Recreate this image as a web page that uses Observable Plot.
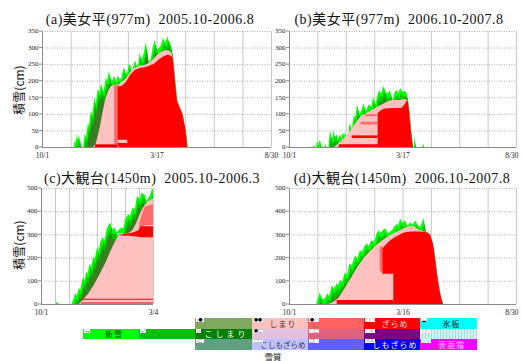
<!DOCTYPE html>
<html><head><meta charset="utf-8">
<script src="https://cdn.jsdelivr.net/npm/d3@7"></script>
<script src="https://cdn.jsdelivr.net/npm/@observablehq/plot@0.6"></script>
<style>
body{margin:0;background:#fff;width:522px;height:361px;overflow:hidden;position:relative;font-family:"Noto Sans CJK JP",sans-serif}
.pl{position:absolute}
.title{position:absolute;font-family:"Liberation Serif","Noto Sans CJK JP",serif;font-size:14px;line-height:14px;letter-spacing:0.5px;white-space:pre;transform:translateX(-50%);color:#111}
.ytitle{position:absolute;font-size:12px;line-height:12px;white-space:nowrap;transform:translate(-50%,-50%) rotate(-90deg);color:#111}
.cell{position:absolute;box-sizing:border-box;font-size:8px;text-align:center;white-space:nowrap;overflow:hidden}
.sym{position:absolute;left:1px;top:0;font-size:4px;line-height:4px;background:#fff;color:#000;padding:0 1px}
#xq{position:absolute;left:273px;top:351.5px;transform:translateX(-50%);font-size:8.5px;line-height:9px;color:#222}
</style></head><body>
<script>
// ---------- data (day index from 10/1, snow depth cm) ----------
const abTicks = [0, 166.5, 333];
const aLabels = ["10/1", "3/17", "8/30"];
const bLabels = ["10/1", "3/17", "8/30"];
const cTicks = [0, 154];
const cLabels = ["10/1", "3/4"];
const dLabels = ["10/1", "3/16", "8/30"];

const titles = ["(a)美女平(977m)  2005.10-2006.8", "(b)美女平(977m)  2006.10-2007.8",
                "(c)大観台(1450m)  2005.10-2006.3", "(d)大観台(1450m)  2006.10-2007.8"];

// (a) 美女平 2005-06
const aDepth = [[46,0],[48,22],[49,12],[51,42],[52,20],[54,35],[56,10],[58,0],[60,0],[62,40],[64,30],[67,75],[68,60],[71,110],[73,95],[76,150],[78,130],[81,175],[83,165],[86,190],[89,165],[91,185],[93,210],[95,200],[97,229],[100,205],[102,200],[105,215],[108,197],[110,215],[113,205],[115,205],[117,225],[119,240],[122,222],[124,225],[126,248],[128,250],[130,232],[132,235],[135,262],[138,245],[140,250],[142,287],[144,265],[146,270],[148,283],[151,317],[154,262],[157,258],[159,275],[161,300],[164,323],[166,305],[167,290],[170,300],[172,302],[174,315],[176,329],[179,315],[181,325],[182,335],[184,320],[186,317],[188,300],[189,290],[190,270],[193,200],[196,142],[200,120],[204,102],[206,80],[208,60],[210,25],[211,0]];
const aPink = [[74,0],[78,10],[80,25],[84,60],[88,105],[92,145],[96,170],[100,183],[106,188],[112,190],[118,200],[124,212],[130,232],[136,240],[142,246],[148,247],[154,252],[160,262],[166,275],[172,285],[178,292],[184,292],[188,285],[190,270],[196,142],[204,102],[208,60],[211,0]];
const aSalmon = [[105,8,184],[111,8,190]];
const aRed = [[110,8,180],[112,0,183],[116,0,185],[122,0,196],[128,0,217],[135,0,232],[142,0,238],[150,0,241],[157,0,246],[164,0,253],[170,0,265],[176,0,272],[182,0,278],[187,0,276],[190,0,270],[196,0,142],[200,0,120],[204,0,102],[206,0,80],[208,0,60],[210,0,25],[211,0,0]];
const aPinkBar = [[110,12,22],[124,12,22]];
const aRedBase = [[77,0,8],[110,0,8]];

// (b) 美女平 2006-07
const bDepth = [[35,0],[37,6],[38,0],[40,0],[41,20],[43,5],[45,22],[47,8],[48,0],[52,0],[53,10],[55,0],[58,0],[60,50],[62,30],[64,25],[65,52],[67,30],[70,38],[72,22],[75,40],[77,25],[79,45],[81,33],[82,44],[85,30],[87,40],[89,72],[91,60],[92,52],[95,95],[97,90],[100,127],[102,110],[104,100],[107,115],[109,132],[111,120],[113,107],[116,125],[119,128],[121,118],[123,151],[125,140],[127,130],[130,160],[133,172],[135,160],[138,184],[140,175],[142,166],[145,160],[148,172],[150,155],[152,141],[155,165],[158,172],[160,160],[163,178],[165,170],[167,166],[170,170],[173,161],[174,142],[176,110],[178,60],[180,25],[182,0],[183,0],[184,35],[185,10],[186,0],[195,0],[197,10],[198,0]];
const bPink = [[66,0],[72,10],[78,22],[84,35],[90,50],[95,65],[100,80],[106,95],[112,100],[118,108],[124,115],[130,122],[136,128],[142,135],[148,140],[155,142],[162,142],[168,145],[174,142],[176,110],[178,60],[180,25],[182,0]];
const bRed = [[130,0,102],[133,0,108],[138,0,115],[145,0,117],[155,0,118],[165,0,118],[170,0,130],[173,0,140],[174,0,142],[176,0,110],[178,0,60],[180,0,25],[182,0,0]];
const bStripe = [[92,27,35],[130,27,35]];
const bRedBase = [[73,0,8],[130,0,8]];
const bSalmon1 = [[105,68,76],[130,68,76]];
const bSalmon2 = [[112,93,99],[130,93,99]];

// (c) 大観台 2005-06
const cDepth = [[20,0],[22,10],[24,0],[42,0],[45,25],[47,47],[49,35],[52,70],[54,60],[56,95],[58,116],[60,100],[62,140],[64,130],[67,175],[69,160],[72,205],[74,195],[77,245],[79,230],[82,270],[85,289],[87,270],[90,320],[93,340],[95,352],[98,320],[101,330],[104,309],[107,320],[111,331],[113,325],[116,365],[120,390],[122,375],[125,410],[127,416],[129,405],[131,450],[133,467],[136,450],[138,480],[140,476],[143,470],[145,440],[147,455],[150,470],[152,490],[154,498]];
const cPink = [[52,0],[58,20],[65,45],[72,80],[80,125],[88,175],[95,225],[101,265],[106,295],[112,300],[120,305],[126,320],[131,350],[136,390],[141,420],[146,440],[150,448],[154,455]];
const cRed = [[109,295,300],[120,294,304],[128,292,310],[134,290,318],[137,288,335],[154,288,335]];
const cSalmon = [[135,320,350],[140,335,400],[143,340,420],[154,340,430]];
const cBlue = [[104,300,306],[113,300,306]];
const cLine1 = [[55,18,23],[154,18,23]];
const cLine2 = [[55,2,6],[154,2,6]];

// (d) 大観台 2006-07
const dDepth = [[40,0],[43,30],[45,51],[48,25],[52,20],[56,45],[59,35],[63,81],[66,65],[70,90],[72,80],[75,103],[78,95],[82,137],[85,125],[89,176],[92,165],[95,195],[97,210],[100,195],[104,232],[107,225],[111,250],[114,262],[117,250],[120,270],[122,275],[125,265],[128,300],[131,318],[134,305],[138,320],[141,326],[145,305],[148,310],[151,318],[154,330],[158,347],[160,335],[163,369],[166,350],[170,360],[174,335],[178,352],[181,340],[185,360],[188,345],[192,330],[195,350],[197,373],[200,320],[202,309],[207,300],[211,262],[214,200],[216,150],[219,90],[222,40],[224,17],[226,0]];
const dPink = [[58,0],[65,10],[72,25],[80,60],[88,100],[92,118],[98,150],[104,175],[110,200],[116,220],[123,240],[130,260],[137,275],[144,290],[150,300],[157,310],[164,320],[170,330],[177,335],[184,335],[190,320],[196,315],[202,309],[207,300],[211,262],[214,200],[216,150],[219,90],[222,40],[224,17],[226,0]];
const dSalmon = [[133,140,245],[137,140,252]];
const dRed = [[137,130,240],[142,130,255],[147,130,270],[153,130,285],[153,0,285],[160,0,295],[166,0,305],[172,0,310],[180,0,312],[190,0,312],[196,0,311],[202,0,309],[207,0,300],[211,0,262],[214,0,200],[216,0,150],[219,0,90],[222,0,40],[224,0,17],[226,0,0]];
const dRedBase = [[70,0,17],[153,0,17]];

// legend (雪質)
const legendX = [83,139,195,252,308,364,420,477];
const legendY = [318,329,339,350];
const legendRow1 = [null,null,"#80a860","#ffc0c0","#ff6060","#ff0000","#00ffff"];
const legendRow2 = ["#00ff00","#00c000","#008000","#e0c0e0","#e06080","#800080","stripe"];
const legendRow3 = [null,null,"#60a080","#c0c0ff","#6060ff","#0000ff","#ff00ff"];
const legendText1 = ["","","","しまり","","ざらめ","氷板"];
const legendText2 = ["新雪","","こしまり","","","",""];
const legendText3 = ["","","","こしもざらめ","","しもざらめ","表面霜"];
const legendInk1 = ["","","","#333","","#ffe0e0","#222"];
const legendInk2 = ["#114411","","#ffffff","","","",""];
const legendInk3 = ["","","","#333","","#ffffff","#ffc0ff"];
const legendSym1 = ["","","/●","●●","●○","○○","▬"];
const legendSym2 = ["++","+/","//","●□","○□","○∧","○○"];
const legendSym3 = ["","","/□","□□","□○","∧∧","∨∨"];

// ---------- drawing ----------
const GREEN = "#00ff00", GREEN2 = "#00c000", OLIVE = "#3a7d22", PINK = "#ffc0c0", RED = "#ff0000", SALMON = "#ff6a6a";

function panel(cfg){
  const {left, top, width, height, ml, mr, mt, mb, xmax, ymax, ystep, xticks, xlabels, lastEnd, depth, pink, bands} = cfg;
  const labelOf = new Map(xticks.map((t,i)=>[t, xlabels[i]]));
  const xy = {x: d=>d[0], y: d=>d[1], curve:"linear", clip:true};
  const band = ([data, fill]) => Plot.areaY(data, {x:d=>d[0], y1:d=>d[1], y2:d=>d[2], fill, curve:"linear", clip:true});
  const xo = {tickFormat: d => labelOf.get(d), tickSize:0, tickPadding:5, fontSize:7.5};
  const xAxes = lastEnd
    ? [Plot.axisX({ticks: xticks.slice(0,-1), ...xo}),
       Plot.axisX({ticks: xticks.slice(-1), ...xo, textAnchor:"end", dx:2})]
    : [Plot.axisX({ticks: xticks, ...xo})];
  const svg = Plot.plot({
    width, height, marginLeft: ml, marginRight: mr, marginTop: mt, marginBottom: mb,
    x: {domain:[0, xmax]},
    y: {domain:[0, ymax]},
    style: {background:"transparent", fontFamily:"Liberation Serif, serif", fontSize:"8px", color:"#222", overflow:"visible"},
    marks: [
      Plot.ruleX(d3.range(1, 9).map(i => i*xmax/8), {stroke:"#c8c8c8", strokeWidth:1}),
      Plot.ruleY(d3.range(ystep, ymax+1, ystep), {stroke:"#9a9a9a", strokeWidth:0.8, strokeDasharray:"1,1.5"}),
      Plot.areaY(depth, {...xy, fill:GREEN}),
      Plot.areaY(depth, {...xy, fill:GREEN2, dx:1, dy:5}),
      Plot.areaY(depth, {...xy, fill:OLIVE, dx:1, dy:11}),
      Plot.areaY(pink, {...xy, fill:PINK}),
      ...bands.map(band),
      Plot.ruleX([0], {stroke:"#8a8a8a"}),
      Plot.ruleY([0], {stroke:"#8a8a8a"}),
      Plot.axisY({ticks: d3.range(0, ymax+1, ystep), tickSize:3, tickPadding:1, stroke:"#8a8a8a", fontSize:7, dy:-0.5}),
      ...xAxes
    ]
  });
  svg.classList.add("pl");
  svg.style.left = left + "px";
  svg.style.top = top + "px";
  document.body.appendChild(svg);
}

panel({left:0, top:0, width:280, height:163, ml:42, mr:9, mt:31, mb:16, xmax:333, ymax:350, ystep:50,
  xticks:abTicks, xlabels:aLabels, lastEnd:false, depth:aDepth, pink:aPink,
  bands:[[aSalmon,SALMON],[aRed,RED],[aPinkBar,PINK],[aRedBase,"#e80000"]]});
panel({left:260, top:0, width:262, height:163, ml:29, mr:6, mt:31, mb:16, xmax:333, ymax:350, ystep:50,
  xticks:abTicks, xlabels:bLabels, lastEnd:true, depth:bDepth, pink:bPink,
  bands:[[bRed,RED],[bStripe,RED],[bRedBase,RED],[bSalmon1,SALMON],[bSalmon2,SALMON]]});
panel({left:0, top:160, width:175, height:160, ml:41, mr:22, mt:28, mb:16, xmax:154, ymax:500, ystep:100,
  xticks:cTicks, xlabels:cLabels, lastEnd:false, depth:cDepth, pink:cPink,
  bands:[[cSalmon,SALMON],[cRed,RED],[cBlue,"#c0c0ff"],[cLine1,"#d01010"],[cLine2,"#d01010"]]});
panel({left:260, top:160, width:262, height:160, ml:29, mr:6, mt:28, mb:16, xmax:333, ymax:500, ystep:100,
  xticks:abTicks, xlabels:dLabels, lastEnd:true, depth:dDepth, pink:dPink,
  bands:[[dSalmon,SALMON],[dRed,RED],[dRedBase,RED]]});

// titles
const titlePos = [[150,13],[399,13],[152,172],[402,172]];
titles.forEach((t,i)=>{
  const d = document.createElement("div");
  d.className = "title"; d.textContent = t;
  d.style.left = titlePos[i][0] + "px"; d.style.top = titlePos[i][1] + "px";
  document.body.appendChild(d);
});
[[19,90],[19,245]].forEach(([x,y])=>{
  const d = document.createElement("div");
  d.className = "ytitle"; d.textContent = "積雪(cm)";
  d.style.left = x + "px"; d.style.top = y + "px";
  document.body.appendChild(d);
});

// legend
const rows = [[legendRow1, legendText1, legendInk1, legendSym1],
              [legendRow2, legendText2, legendInk2, legendSym2],
              [legendRow3, legendText3, legendInk3, legendSym3]];
rows.forEach(([colors, texts, inks, syms], r) => {
  colors.forEach((c, k) => {
    if (!c) return;
    const d = document.createElement("div");
    d.className = "cell";
    const w = legendX[k+1] - legendX[k], h = legendY[r+1] - legendY[r];
    d.style.left = legendX[k] + "px";
    d.style.top = legendY[r] + "px";
    d.style.width = w + "px";
    d.style.height = h + "px";
    d.style.lineHeight = h + "px";
    if (c === "stripe") d.style.background = "repeating-linear-gradient(90deg,#d4f4f4 0 2px,#9edede 2px 3px)";
    else d.style.background = c;
    if (texts[k]) {
      const t = document.createElement("span");
      t.textContent = texts[k];
      t.style.color = inks[k];
      const n = texts[k].length;
      t.style.letterSpacing = n >= 6 ? "0px" : (n === 4 ? "3px" : "1px");
      t.style.fontSize = n >= 6 ? "7.5px" : "8px";
      t.style.paddingLeft = "6px";
      d.appendChild(t);
    }
    if (syms[k]) {
      const s = document.createElement("span");
      s.className = "sym"; s.textContent = syms[k];
      d.appendChild(s);
    }
    document.body.appendChild(d);
  });
});
const xq = document.createElement("div");
xq.id = "xq"; xq.textContent = "雪質";
document.body.appendChild(xq);
</script>
</body></html>
